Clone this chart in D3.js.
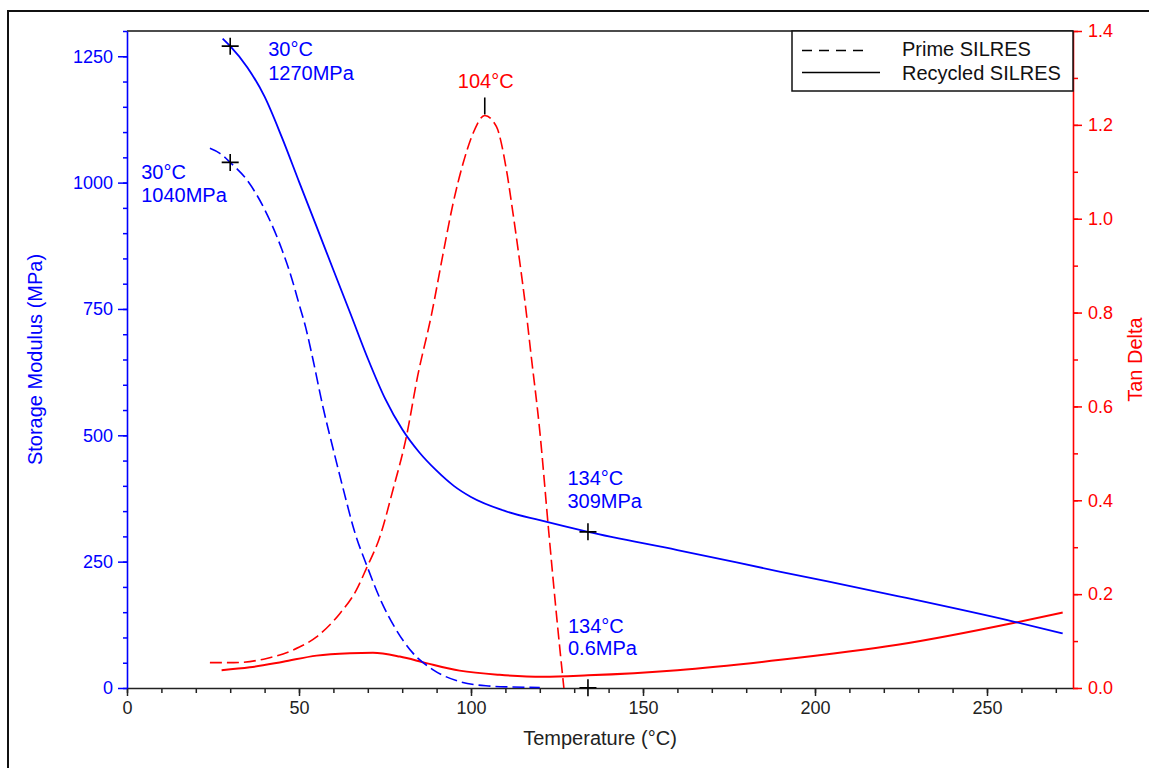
<!DOCTYPE html>
<html>
<head>
<meta charset="utf-8">
<script src="https://cdn.jsdelivr.net/npm/d3@7"></script>
<style>
  html, body { margin: 0; padding: 0; background: #fff; }
  svg { display: block; font-family: "Liberation Sans", Arial, sans-serif; }
</style>
</head>
<body>
<svg id="chart" width="1149" height="768"></svg>
<script>
// Storage modulus (MPa) of the recycled resin vs temperature (°C)
const recycledModulusTemp = [27.8, 30, 35, 40, 45, 50, 55, 60, 65, 70, 75, 80, 85, 90, 95, 100, 110, 120, 134, 160, 190, 224, 258, 272];
const recycledModulus     = [1285, 1270, 1228, 1170, 1090, 1002, 915, 827, 740, 652, 573, 512, 466, 430, 400, 378, 350, 332, 309, 273, 230, 182, 131, 108];

// Storage modulus (MPa) of the prime resin
const primeModulusTemp = [24.1, 27, 30, 35, 40, 45, 48, 50, 52, 54, 57, 60, 63, 66, 70, 74, 78, 83, 89, 97, 105, 112, 120];
const primeModulus     = [1068, 1058, 1040, 1004, 947, 868, 808, 760, 712, 652, 555, 471, 390, 313, 237, 170, 118, 70, 36, 12, 4, 2, 1];

// Tan delta of the prime resin
const primeTanTemp  = [24.1, 31, 40.6, 48.3, 55.1, 61.9, 66.7, 69.6, 73.5, 77.3, 81.2, 84.5, 88.5, 91.9, 94.8, 97.7, 100.6, 104, 107.4, 110.3, 112.2, 114.1, 116.1, 117.3, 120, 122.6, 124.9, 127];
const primeTanDelta = [0.054, 0.054, 0.063, 0.081, 0.109, 0.159, 0.209, 0.255, 0.322, 0.422, 0.535, 0.665, 0.795, 0.926, 1.033, 1.118, 1.182, 1.22, 1.196, 1.104, 1.012, 0.912, 0.798, 0.72, 0.547, 0.333, 0.152, 0.0];

// Tan delta of the recycled resin
const recycledTanTemp  = [27.5, 35.7, 45.4, 55.1, 64.8, 71.5, 79.3, 87, 96.7, 108.3, 121, 134, 160, 190, 224, 258, 272];
const recycledTanDelta = [0.038, 0.044, 0.056, 0.069, 0.074, 0.075, 0.067, 0.053, 0.037, 0.028, 0.024, 0.027, 0.038, 0.060, 0.092, 0.139, 0.161];

// Axis ticks
const tempTicks = [0, 50, 100, 150, 200, 250];
const modulusTicks = [0, 250, 500, 750, 1000, 1250];
const tanTicks = [0, 0.2, 0.4, 0.6, 0.8, 1.0, 1.2, 1.4];

// Marked points: [temperature, value, line1, line2]
const modulusMarks = [
  [30, 1270, "30°C", "1270MPa"],
  [30, 1040, "30°C", "1040MPa"],
  [134, 309, "134°C", "309MPa"],
  [134, 0.6, "134°C", "0.6MPa"]
];
const tanPeak = [104, 1.22, "104°C"];

const legendLabels = ["Prime SILRES", "Recycled SILRES"];

const BLUE = "#0000ff", RED = "#ff0000";

const svg = d3.select("#chart");
const plotLeft = 127, plotRight = 1073, plotTop = 31, plotBottom = 688;

const x = d3.scaleLinear().domain([0, 275]).range([plotLeft, plotRight]);
const yL = d3.scaleLinear().domain([0, 1300]).range([plotBottom, plotTop]);
const yR = d3.scaleLinear().domain([0, 1.4]).range([plotBottom, plotTop]);

// outer frame
svg.append("rect").attr("x", 8).attr("y", 11).attr("width", 1200).attr("height", 800)
  .attr("fill", "none").attr("stroke", "#111").attr("stroke-width", 2);

// top edge of plot box
svg.append("line").attr("x1", plotLeft).attr("x2", plotRight).attr("y1", plotTop).attr("y2", plotTop)
  .attr("stroke", "#111").attr("stroke-width", 1.5);

function styleAxis(g, color, size, showDomain) {
  g.select(".domain").attr("stroke", showDomain ? color : "none").attr("stroke-width", 1.6);
  g.selectAll(".tick line").attr("stroke", color).attr("stroke-width", 1.5);
  g.selectAll(".tick text").attr("fill", color).style("font-size", size + "px")
    .style("font-family", "'Liberation Sans', Arial, sans-serif");
}

// x axis
const gxMinor = svg.append("g").attr("transform", `translate(0,${plotBottom})`)
  .call(d3.axisBottom(x).tickValues(d3.range(0, 275, 10)).tickSize(5).tickSizeOuter(0).tickFormat(""));
styleAxis(gxMinor, "#222", 18, false);
const gx = svg.append("g").attr("transform", `translate(0,${plotBottom})`)
  .call(d3.axisBottom(x).tickValues(tempTicks).tickSize(8).tickSizeOuter(0).tickPadding(5).tickFormat(d3.format("d")));
styleAxis(gx, "#222", 18, true);

// left axis
const glMinor = svg.append("g").attr("transform", `translate(${plotLeft},0)`)
  .call(d3.axisLeft(yL).tickValues(d3.range(0, 1301, 50)).tickSize(4).tickSizeOuter(0).tickFormat(""));
styleAxis(glMinor, BLUE, 18, false);
const gl = svg.append("g").attr("transform", `translate(${plotLeft},0)`)
  .call(d3.axisLeft(yL).tickValues(modulusTicks).tickSize(9).tickSizeOuter(0).tickPadding(5).tickFormat(d3.format("d")));
styleAxis(gl, BLUE, 18, true);

// right axis
const grMinor = svg.append("g").attr("transform", `translate(${plotRight},0)`)
  .call(d3.axisRight(yR).tickValues(d3.range(0, 14.01, 1).map(v => v / 10)).tickSize(5).tickSizeOuter(0).tickFormat(""));
styleAxis(grMinor, RED, 18, false);
const gr = svg.append("g").attr("transform", `translate(${plotRight},0)`)
  .call(d3.axisRight(yR).tickValues(tanTicks).tickSize(9).tickSizeOuter(0).tickPadding(6).tickFormat(d3.format(".1f")));
styleAxis(gr, RED, 18, true);

// axis titles
svg.append("text").attr("x", (plotLeft + plotRight) / 2).attr("y", 745).attr("text-anchor", "middle")
  .attr("fill", "#222").style("font-size", "20px").text("Temperature (°C)");
svg.append("text").attr("transform", `translate(42,${(plotTop + plotBottom) / 2}) rotate(-90)`)
  .attr("text-anchor", "middle").attr("fill", BLUE).style("font-size", "20px").text("Storage Modulus (MPa)");
svg.append("text").attr("transform", `translate(1142,${(plotTop + plotBottom) / 2}) rotate(-90)`)
  .attr("text-anchor", "middle").attr("fill", RED).style("font-size", "20px").text("Tan Delta");

// curves
const zip = (xs, ys) => xs.map((t, i) => [t, ys[i]]);
const lineL = d3.line().x(d => x(d[0])).y(d => yL(d[1])).curve(d3.curveMonotoneX);
const lineR = d3.line().x(d => x(d[0])).y(d => yR(d[1])).curve(d3.curveMonotoneX);
const plot = svg.append("g");

plot.append("path").datum(zip(primeTanTemp, primeTanDelta)).attr("d", lineR)
  .attr("fill", "none").attr("stroke", RED).attr("stroke-width", 1.6).attr("stroke-dasharray", "12,5");
plot.append("path").datum(zip(recycledTanTemp, recycledTanDelta)).attr("d", lineR)
  .attr("fill", "none").attr("stroke", RED).attr("stroke-width", 2);
plot.append("path").datum(zip(primeModulusTemp, primeModulus)).attr("d", lineL)
  .attr("fill", "none").attr("stroke", BLUE).attr("stroke-width", 1.6).attr("stroke-dasharray", "12,5");
plot.append("path").datum(zip(recycledModulusTemp, recycledModulus)).attr("d", lineL)
  .attr("fill", "none").attr("stroke", BLUE).attr("stroke-width", 1.8);

// crosshair markers
const cross = 8.5;
modulusMarks.forEach(m => {
  const cx = x(m[0]), cy = yL(m[1]);
  plot.append("path").attr("d", `M${cx - cross},${cy}H${cx + cross}M${cx},${cy - cross}V${cy + cross}`)
    .attr("stroke", "#000").attr("stroke-width", 1.6);
});

// marker labels
const labelPos = [
  { dx: 38, dy: [10, 33.5] },
  { dx: -89, dy: [17, 40] },
  { dx: -20.5, dy: [-46.5, -24] },
  { dx: -20, dy: [-54.5, -32.5] }
];
modulusMarks.forEach((m, i) => {
  const cx = x(m[0]), cy = yL(m[1]);
  const t = svg.append("text").attr("fill", BLUE).style("font-size", "20px");
  t.append("tspan").attr("x", cx + labelPos[i].dx).attr("y", cy + labelPos[i].dy[0]).text(m[2]);
  t.append("tspan").attr("x", cx + labelPos[i].dx).attr("y", cy + labelPos[i].dy[1]).text(m[3]);
});

// tan delta peak
const px = x(tanPeak[0]), py = yR(tanPeak[1]);
plot.append("line").attr("x1", px).attr("x2", px).attr("y1", py - 1).attr("y2", py - 18)
  .attr("stroke", "#000").attr("stroke-width", 1.6);
svg.append("text").attr("x", px + 1).attr("y", py - 27).attr("text-anchor", "middle")
  .attr("fill", RED).style("font-size", "20px").text(tanPeak[2]);

// legend
const lg = svg.append("g");
lg.append("rect").attr("x", 792).attr("y", 31).attr("width", 281).attr("height", 60)
  .attr("fill", "#fff").attr("stroke", "#111").attr("stroke-width", 1.5);
lg.append("line").attr("x1", 802).attr("x2", 864).attr("y1", 50.5).attr("y2", 50.5)
  .attr("stroke", "#000").attr("stroke-width", 1.5).attr("stroke-dasharray", "10,7");
lg.append("line").attr("x1", 802).attr("x2", 880).attr("y1", 72.5).attr("y2", 72.5)
  .attr("stroke", "#000").attr("stroke-width", 1.5);
legendLabels.forEach((s, i) => {
  lg.append("text").attr("x", 902).attr("y", 56 + i * 23.5).attr("fill", "#111")
    .style("font-size", "20px").text(s);
});
</script>
</body>
</html>
